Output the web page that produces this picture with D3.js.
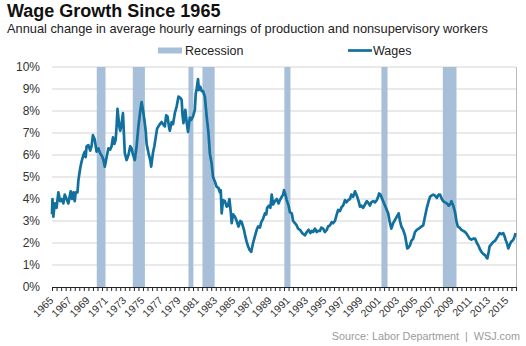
<!DOCTYPE html>
<html>
<head>
<meta charset="utf-8">
<script src="https://cdn.jsdelivr.net/npm/d3@7"></script>
<style>
  body { margin: 0; background: #fff; }
  svg { font-family: "Liberation Sans", Arial, sans-serif; }
</style>
</head>
<body>
<div id="chart"></div>
<script>
// decimal year of each reading, and the annual wage change (%)
const years = [
  1965.0, 1965.05, 1965.15, 1965.3, 1965.5, 1965.7, 1965.9, 1966.07, 1966.25, 1966.4, 1966.6, 1966.8,
  1967.05, 1967.2, 1967.35, 1967.5, 1967.6, 1967.8, 1967.9, 1968.1, 1968.25, 1968.45, 1968.6, 1968.7, 1968.8,
  1969.0, 1969.2, 1969.35, 1969.5, 1969.7, 1969.9, 1970.1, 1970.3, 1970.5, 1970.65, 1970.8,
  1971.0, 1971.2, 1971.4, 1971.55, 1971.7, 1971.85, 1972.0, 1972.1, 1972.2, 1972.3, 1972.4, 1972.5, 1972.65, 1972.8, 1972.9,
  1973.0, 1973.2, 1973.4, 1973.6, 1973.75, 1973.85, 1974.1, 1974.3, 1974.5, 1974.7, 1974.85,
  1975.0, 1975.15, 1975.3, 1975.4, 1975.6, 1975.8, 1975.9, 1976.1, 1976.25, 1976.4, 1976.55, 1976.7, 1976.85,
  1977.05, 1977.2, 1977.4, 1977.55, 1977.7, 1977.85, 1977.95, 1978.15, 1978.3, 1978.5, 1978.7, 1978.9,
  1979.1, 1979.25, 1979.35, 1979.45, 1979.65, 1979.8, 1979.95, 1980.15, 1980.3, 1980.5, 1980.7, 1980.8, 1980.9,
  1981.05, 1981.15, 1981.3, 1981.45, 1981.6, 1981.8, 1982.0, 1982.2, 1982.35, 1982.55, 1982.7, 1982.9,
  1983.1, 1983.3, 1983.45, 1983.55, 1983.65, 1983.8, 1984.0, 1984.2, 1984.35, 1984.5, 1984.65, 1984.75, 1984.9,
  1985.1, 1985.3, 1985.5, 1985.7, 1985.85, 1986.1, 1986.25, 1986.4, 1986.55, 1986.7, 1986.9,
  1987.1, 1987.3, 1987.5, 1987.65, 1987.85, 1988.0, 1988.2, 1988.4, 1988.55, 1988.65, 1988.85,
  1989.0, 1989.15, 1989.3, 1989.5, 1989.7, 1989.9, 1990.05, 1990.25, 1990.4, 1990.5, 1990.65, 1990.8,
  1991.0, 1991.15, 1991.35, 1991.5, 1991.7, 1991.9, 1992.05, 1992.25, 1992.5, 1992.8,
  1993.0, 1993.2, 1993.4, 1993.55, 1993.7, 1993.9, 1994.1, 1994.25, 1994.45, 1994.6, 1994.8,
  1995.0, 1995.2, 1995.35, 1995.55, 1995.75, 1995.9, 1996.1, 1996.3, 1996.45, 1996.65, 1996.85,
  1997.0, 1997.2, 1997.35, 1997.55, 1997.75, 1997.9, 1998.1, 1998.3, 1998.45, 1998.55, 1998.7, 1998.85,
  1999.0, 1999.2, 1999.4, 1999.6, 1999.8, 1999.95, 2000.1, 2000.3, 2000.5, 2000.7, 2000.85, 2000.95,
  2001.1, 2001.2, 2001.4, 2001.6, 2001.8, 2001.95, 2002.1, 2002.3, 2002.5, 2002.7, 2002.9,
  2003.1, 2003.25, 2003.4, 2003.6, 2003.8, 2003.95, 2004.05, 2004.2, 2004.35, 2004.5, 2004.7, 2004.9,
  2005.1, 2005.3, 2005.45, 2005.6, 2005.8, 2006.0, 2006.2, 2006.4, 2006.55, 2006.7, 2006.9,
  2007.1, 2007.3, 2007.5, 2007.65, 2007.85, 2008.0, 2008.2, 2008.4, 2008.6, 2008.75, 2008.9,
  2009.1, 2009.3, 2009.45, 2009.6, 2009.8, 2010.0, 2010.2, 2010.4, 2010.6, 2010.75, 2010.9,
  2011.1, 2011.3, 2011.5, 2011.7, 2011.85, 2012.0, 2012.2, 2012.4, 2012.6, 2012.75, 2012.85,
  2013.0, 2013.1, 2013.3, 2013.5, 2013.7, 2013.85, 2014.0, 2014.2, 2014.4, 2014.6, 2014.75, 2014.85,
  2015.0, 2015.15, 2015.3, 2015.45, 2015.6, 2015.7, 2015.85, 2015.95
];
const wages = [
  3.3, 4.0, 3.2, 3.8, 3.6, 4.3, 3.9, 4.0, 3.8, 4.2, 4.0, 3.8,
  4.35, 4.0, 4.3, 3.9, 4.3, 4.3, 4.85, 5.4, 5.7, 6.0, 6.15, 5.9, 6.38,
  6.45, 6.2, 6.4, 6.9, 6.7, 6.15, 6.3, 6.07, 5.95, 5.77, 5.47,
  5.9, 6.3, 6.25, 6.4, 6.8, 6.5, 6.7, 7.3, 8.1, 7.7, 7.3, 7.1, 7.4, 7.9, 7.0,
  6.1, 5.77, 6.0, 6.4, 6.3, 6.1, 5.77, 6.4, 7.3, 8.0, 8.4,
  8.05, 7.6, 7.1, 6.5, 6.1, 5.77, 5.47, 6.1, 6.4, 6.8, 7.2, 7.3, 7.4,
  7.5, 7.4, 7.3, 7.8, 7.75, 7.3, 7.1, 7.5, 7.4, 7.9, 8.2, 8.65,
  8.6, 8.5, 7.8, 7.45, 8.05, 7.5, 7.05, 7.7, 7.6, 7.75, 8.05, 8.8, 9.0,
  9.45, 8.95, 9.1, 8.9, 8.9, 8.65, 7.75, 7.0, 6.07, 5.6, 5.0, 4.8,
  4.55, 4.5, 4.3, 4.4, 3.35, 3.95, 3.9, 3.65, 3.7, 4.0, 3.4, 2.9, 3.3,
  3.2, 3.0, 2.75, 3.0, 2.95, 2.6, 2.3, 2.05, 1.85, 1.7, 1.6,
  2.0, 2.3, 2.6, 2.75, 2.7, 2.95, 3.1, 3.35, 3.3, 3.6, 3.7,
  3.6, 4.2, 3.75, 3.9, 4.0, 3.8, 3.95, 4.1, 4.2, 4.4, 4.2, 3.95,
  3.7, 3.4, 3.35, 3.0, 2.9, 2.8, 2.65, 2.6, 2.45, 2.35,
  2.5, 2.6, 2.45, 2.55, 2.5, 2.65, 2.5, 2.55, 2.55, 2.7, 2.65,
  2.5, 2.6, 2.75, 2.8, 2.95, 2.9, 3.0, 3.3, 3.5, 3.45, 3.65,
  3.7, 3.95, 3.85, 3.95, 4.0, 4.2, 4.1, 4.35, 4.2, 4.1, 3.9, 3.65,
  3.7, 3.6, 3.75, 3.9, 3.8, 3.7, 3.85, 3.9, 3.85, 3.95, 4.1, 4.25,
  4.2, 4.1, 3.9, 3.7, 3.5, 3.35, 3.0, 2.65, 2.9, 3.05, 3.2,
  3.35, 3.0, 2.75, 2.6, 2.35, 2.0, 1.75, 1.8, 1.9, 2.1, 2.2, 2.5,
  2.6, 2.65, 2.7, 2.75, 2.8, 3.2, 3.6, 3.9, 4.1, 4.15, 4.2,
  4.15, 4.05, 4.2, 4.2, 4.0, 3.9, 3.85, 3.8, 3.7, 3.75, 3.9,
  3.7, 3.4, 3.0, 2.75, 2.7, 2.6, 2.55, 2.5, 2.4, 2.3, 2.2,
  2.15, 2.2, 2.2, 2.0, 1.9, 1.75, 1.6, 1.5, 1.45, 1.35, 1.3,
  1.6, 1.85, 1.95, 2.05, 2.1, 2.2, 2.3, 2.45, 2.4, 2.45, 2.3, 2.15,
  2.0, 1.75, 1.9, 2.05, 2.1, 2.15, 2.3, 2.45
];
// recession periods, decimal years
const recessionStart = [1969.92, 1973.88, 1980.0, 1981.54, 1990.54, 2001.21, 2007.96];
const recessionEnd   = [1970.88, 1975.21, 1980.54, 1982.88, 1991.21, 2001.88, 2009.46];
const yTicks = [0, 1, 2, 3, 4, 5, 6, 7, 8, 9, 10];
const xLabels = d3.range(1965, 2016, 2);

const width = 526, height = 346;
const margin = { top: 67, right: 10, bottom: 59, left: 52 };
const innerW = width - margin.left - margin.right;
const innerH = height - margin.top - margin.bottom;

const svg = d3.select("#chart").append("svg").attr("width", width).attr("height", height);

svg.append("text").attr("x", 7).attr("y", 16.5)
  .attr("font-size", 18).attr("font-weight", "bold").attr("fill", "#111")
  .text("Wage Growth Since 1965");
svg.append("text").attr("x", 7).attr("y", 33)
  .attr("font-size", 12.8).attr("fill", "#222")
  .text("Annual change in average hourly earnings of production and nonsupervisory workers");

const g = svg.append("g").attr("transform", `translate(${margin.left},${margin.top})`);

const x = d3.scaleLinear().domain([1965, 2016]).range([0, innerW]);
const y = d3.scaleLinear().domain([0, 10]).range([innerH, 0]);

// gridlines
g.append("g").selectAll("line").data(yTicks.filter(d => d > 0)).join("line")
  .attr("x1", 0).attr("x2", innerW)
  .attr("y1", d => y(d)).attr("y2", d => y(d))
  .attr("stroke", "#d4d4d4").attr("stroke-width", 1);

// recession bars
g.append("g").selectAll("rect").data(recessionStart).join("rect")
  .attr("x", d => x(d))
  .attr("width", (d, i) => x(recessionEnd[i]) - x(d))
  .attr("y", 0).attr("height", innerH)
  .attr("fill", "#a7bfd8");

// right frame
g.append("line").attr("x1", innerW + 0.5).attr("x2", innerW + 0.5).attr("y1", 0).attr("y2", innerH)
  .attr("stroke", "#bbb");

// wage line
const pts = years.map((d, i) => [d, wages[i]]);
g.append("path").datum(pts)
  .attr("fill", "none").attr("stroke", "#11709d").attr("stroke-width", 2.7)
  .attr("stroke-linejoin", "round")
  .attr("d", d3.line().x(d => x(d[0])).y(d => y(d[1])));

// y axis labels
const yAxis = d3.axisLeft(y).tickValues(yTicks).tickSize(0).tickPadding(12).tickFormat(d => d + "%");
const gy = g.append("g").call(yAxis);
gy.select(".domain").remove();
gy.selectAll("text").attr("font-size", 12).attr("fill", "#333")
  .attr("font-family", "Liberation Sans, Arial, sans-serif");

// x axis
const xAxis = d3.axisBottom(x).tickValues(d3.range(1965, 2016.01, 0.5)).tickSize(4).tickSizeOuter(0)
  .tickFormat(d => xLabels.includes(d) ? String(d) : "");
const gx = g.append("g").attr("transform", `translate(0,${innerH})`).call(xAxis);
gx.select(".domain").attr("stroke", "#222");
gx.selectAll(".tick line").attr("stroke", "#222");
gx.selectAll("text")
  .attr("font-size", 10.5).attr("fill", "#333")
  .attr("font-family", "Liberation Sans, Arial, sans-serif")
  .attr("text-anchor", "end")
  .attr("x", 0).attr("y", 0).attr("dy", "0.35em")
  .attr("transform", "translate(-1,11.5) rotate(-45)");

// legend
const lg = svg.append("g");
lg.append("rect").attr("x", 158).attr("y", 47.5).attr("width", 24).attr("height", 6).attr("fill", "#a7bfd8");
lg.append("text").attr("x", 185).attr("y", 55).attr("font-size", 12.5).attr("fill", "#222").text("Recession");
lg.append("line").attr("x1", 348).attr("x2", 372).attr("y1", 50.5).attr("y2", 50.5)
  .attr("stroke", "#11709d").attr("stroke-width", 2.7);
lg.append("text").attr("x", 373).attr("y", 55).attr("font-size", 12.5).attr("fill", "#222").text("Wages");

// source
svg.append("text").attr("x", 520).attr("y", 340).attr("text-anchor", "end")
  .attr("font-size", 10.8).attr("fill", "#9a9a9a").style("white-space", "pre")
  .text("Source: Labor Department  |  WSJ.com");
</script>
</body>
</html>
